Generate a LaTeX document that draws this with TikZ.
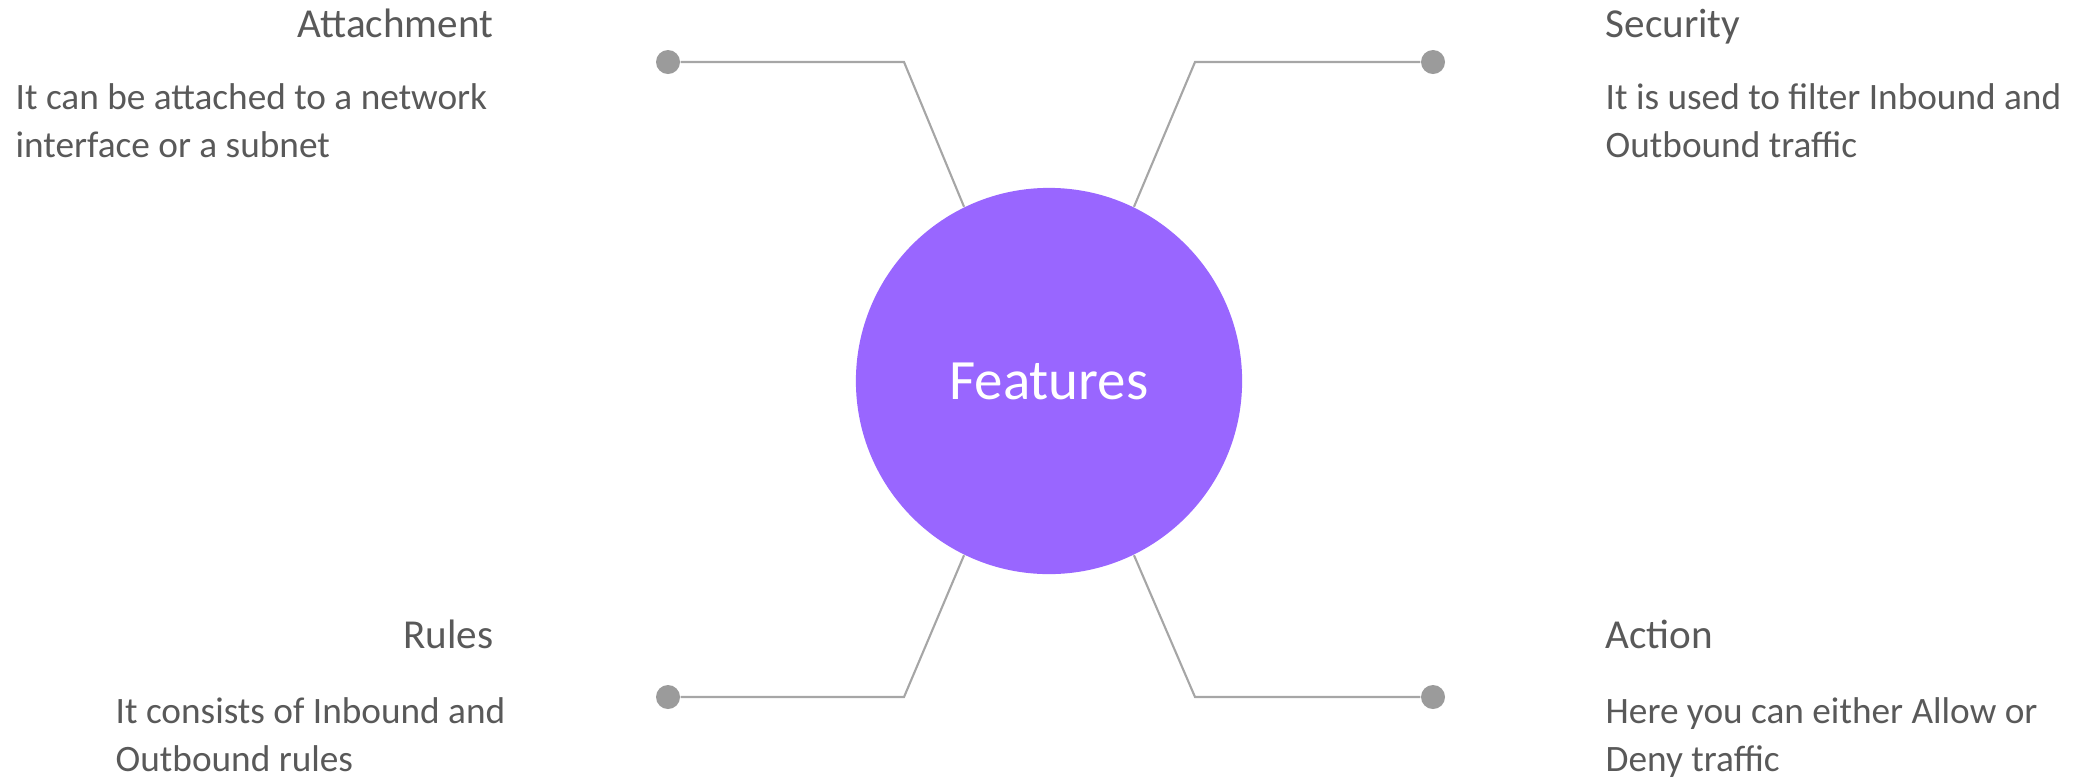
\documentclass[tikz,border=0pt]{standalone}
\usepackage{fontspec}
\setmainfont{Carlito}
\usetikzlibrary{positioning}
\definecolor{featpurple}{HTML}{9966FF}
\definecolor{linkgray}{HTML}{A6A6A6}
\definecolor{dotgray}{HTML}{9B9B9B}
\definecolor{textgray}{HTML}{595959}

\begin{document}
\begin{tikzpicture}[x=0.01cm,y=-0.01cm,
    title/.style={text=textgray,font=\fontsize{11.7}{14}\selectfont,inner sep=0pt},
    body/.style={text=textgray,font=\fontsize{10.6}{13.4}\selectfont,align=left,inner sep=0pt},
    dot/.style={circle,fill=dotgray,minimum size=0.24cm,inner sep=0pt},
    link/.style={draw=linkgray,line width=0.6pt}]
  \useasboundingbox (0,0) rectangle (2082,781);

  \node[circle,fill=featpurple,minimum size=3.86cm,inner sep=0pt,text=white,
    font=\fontsize{16.2}{19}\selectfont] (feat) at (1049,381) {Features};

  \coordinate (ka) at (904,62);
  \coordinate (ks) at (1195,62);
  \coordinate (kr) at (904,697);
  \coordinate (kc) at (1195,697);
  \node[dot] (da) at (668,62) {};
  \node[dot] (ds) at (1433,62) {};
  \node[dot] (dr) at (668,697) {};
  \node[dot] (dc) at (1433,697) {};
  \foreach \x/\a in {a/116,s/64,r/244,c/296}
    \draw[link] (d\x)--(k\x)--(feat.\a);

  \node[title,anchor=base east] (att) at (494,37) {Attachment};
  \node[body,anchor=base west] (atttxt) at (15,157) {It can be attached to a network\\interface or a subnet};
  \node[title,anchor=base west] (sec) at (1605,37) {Security};
  \node[body,anchor=base west] (sectxt) at (1605,157) {It is used to filter Inbound and\\Outbound traffic};
  \node[title,anchor=base east] (rul) at (494,648) {Rules};
  \node[body,anchor=base west] (rultxt) at (115,771) {It consists of Inbound and\\Outbound rules};
  \node[title,anchor=base west] (act) at (1605,648) {Action};
  \node[body,anchor=base west] (acttxt) at (1605,771) {Here you can either Allow or\\Deny traffic};
\end{tikzpicture}
\end{document}
